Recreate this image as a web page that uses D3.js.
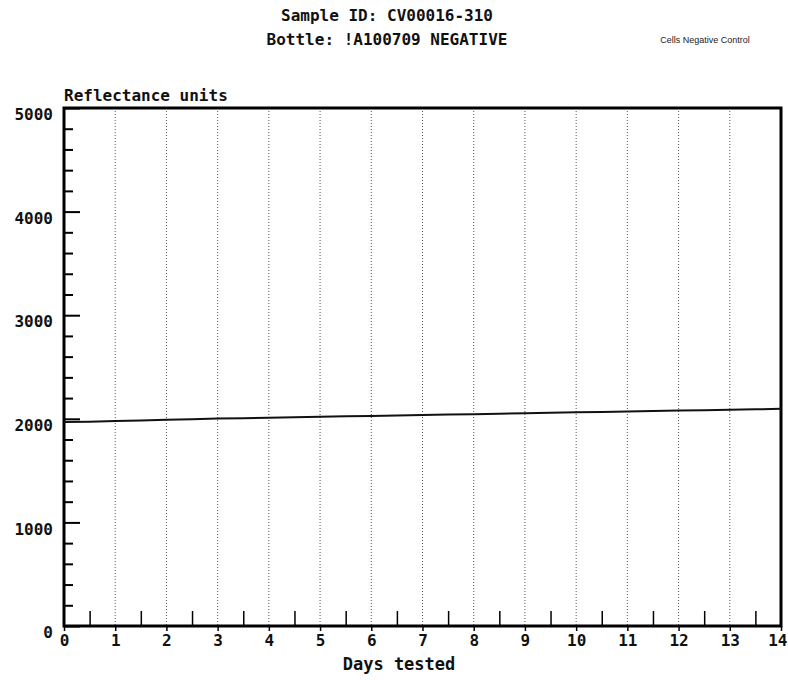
<!DOCTYPE html>
<html>
<head>
<meta charset="utf-8">
<script src="https://cdn.jsdelivr.net/npm/d3@7"></script>
<style>
  body { margin: 0; background: #fff; }
  svg { display: block; }
  .mono { font-family: "DejaVu Sans Mono", monospace; font-weight: bold; fill: #111; }
</style>
</head>
<body>
<svg id="svg"></svg>
<script>
// readings (days, reflectance units)
var days = [0, 0.5, 1, 1.5, 2, 2.5, 3, 3.5, 4, 4.5, 5, 5.5, 6, 6.5, 7, 7.5, 8, 8.5, 9, 9.5, 10, 10.5, 11, 11.5, 12, 12.5, 13, 13.5, 14];
var units = [1968, 1971, 1978, 1984, 1990, 1995, 2002, 2005, 2010, 2016, 2019, 2024, 2028, 2031, 2037, 2041, 2045, 2049, 2054, 2058, 2063, 2066, 2071, 2076, 2080, 2083, 2088, 2092, 2096];
var xTicks = d3.range(0, 15);
var yTicks = [0, 1000, 2000, 3000, 4000, 5000];
var titleLines = ["Sample ID: CV00016-310", "Bottle: !A100709 NEGATIVE"];

var margin = {top: 108, right: 7, bottom: 54, left: 64};
var width = 788 - margin.left - margin.right;
var height = 680 - margin.top - margin.bottom;

var svg = d3.select("#svg").attr("width", 788).attr("height", 680);

var xScale = d3.scaleLinear().domain([0, 14]).range([0, width]);
var yScale = d3.scaleLinear().domain([0, 5000]).range([height, 0]);

var g = svg.append("g").attr("transform", `translate(${margin.left}, ${margin.top})`);

// dotted gridlines at each day
g.selectAll(".grid").data(xTicks.slice(1, -1)).enter().append("line")
    .attr("x1", d => xScale(d)).attr("x2", d => xScale(d))
    .attr("y1", 0).attr("y2", height)
    .attr("stroke", "#555").attr("stroke-width", 1)
    .attr("stroke-dasharray", "1,2");

// y minor ticks
var yMinor = d3.range(0, 5001, 200).filter(d => d % 1000 != 0);
g.append("g").call(d3.axisLeft(yScale).tickValues(yMinor).tickSize(-9).tickFormat(""))
    .call(a => a.select(".domain").remove())
    .selectAll("line").attr("stroke-width", 2);

// y major ticks + labels
var yAx = g.append("g").call(d3.axisLeft(yScale).tickValues(yTicks).tickSize(-16).tickPadding(11).tickFormat(d3.format("d")));
yAx.select(".domain").remove();
yAx.selectAll("line").attr("stroke-width", 2);
yAx.selectAll("text").attr("class", "mono").style("font-size", "16px").attr("dy", "0.85em").attr("y", -2);

// x half-day ticks
g.append("g").attr("transform", `translate(0, ${height})`)
    .call(d3.axisBottom(xScale).tickValues(d3.range(0.5, 14, 1)).tickSize(-15).tickFormat(""))
    .call(a => a.select(".domain").remove())
    .selectAll("line").attr("stroke-width", 1.5);

// x day ticks + labels
var xAx = g.append("g").attr("transform", `translate(0, ${height})`)
    .call(d3.axisBottom(xScale).tickValues(xTicks).tickSize(5).tickPadding(4).tickFormat(d3.format("d")));
xAx.select(".domain").remove();
xAx.selectAll("line").attr("stroke-width", 1.5);
xAx.selectAll("text").attr("class", "mono").style("font-size", "16px");
// last label sits against the page edge
xAx.selectAll("text").filter(d => d == 14).attr("text-anchor", "end").attr("x", 6);

// frame
g.append("rect").attr("x", 0).attr("y", 0).attr("width", width).attr("height", height)
    .attr("fill", "none").attr("stroke", "#000").attr("stroke-width", 3);

// reading line
g.append("path").datum(days.map((d, i) => ({day: d, val: units[i]})))
    .attr("fill", "none").attr("stroke", "#111").attr("stroke-width", 2)
    .attr("d", d3.line().x(d => xScale(d.day)).y(d => yScale(d.val)));

// titles
svg.selectAll(".title").data(titleLines).enter().append("text")
    .attr("class", "mono").attr("x", 387).attr("y", (d, i) => 21 + i * 24)
    .attr("text-anchor", "middle").style("font-size", "16px").text(d => d);

svg.append("text").attr("x", 705).attr("y", 43).attr("text-anchor", "middle")
    .style("font-family", "Liberation Sans, Arial, sans-serif").style("font-size", "9px").attr("fill", "#222")
    .text("Cells Negative Control");

svg.append("text").attr("class", "mono").attr("x", 64).attr("y", 101)
    .style("font-size", "16px").text("Reflectance units");

svg.append("text").attr("class", "mono").attr("x", 399).attr("y", 670)
    .attr("text-anchor", "middle").style("font-size", "17px").text("Days tested");
</script>
</body>
</html>
